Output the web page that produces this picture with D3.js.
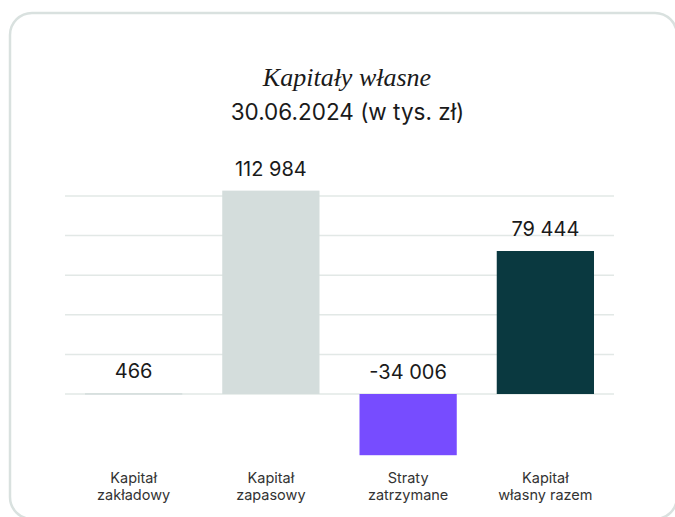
<!DOCTYPE html>
<html>
<head>
<meta charset="utf-8">
<script src="https://cdn.jsdelivr.net/npm/d3@7"></script>
<style>
  html, body { margin: 0; padding: 0; background: #ffffff; }
  svg { display: block; }
</style>
</head>
<body>
<svg id="chart" width="675" height="517"></svg>
<script>
// ---- data ----
const categories = [
  ["Kapitał", "zakładowy"],
  ["Kapitał", "zapasowy"],
  ["Straty", "zatrzymane"],
  ["Kapitał", "własny razem"]
];
const values = [466, 112984, -34006, 79444];
const valueLabels = ["466", "112 984", "-34 006", "79 444"];
const barColors = ["#d4dddc", "#d4dddc", "#774cff", "#0a3940"];
const gridValues = [0, 22000, 44000, 66000, 88000, 110000];
const titleText = "Kapitały własne";
const subtitleText = "30.06.2024 (w tys. zł)";

// ---- drawing ----
const svg = d3.select("#chart");
const sans = "Inter, 'Noto Sans', sans-serif";

// card
svg.append("rect")
  .attr("x", 10).attr("y", 13)
  .attr("width", 667).attr("height", 506)
  .attr("rx", 22).attr("ry", 22)
  .attr("fill", "#ffffff")
  .attr("stroke", "#d9e1df")
  .attr("stroke-width", 2.5);

// title
svg.append("text")
  .attr("x", 347).attr("y", 86)
  .attr("text-anchor", "middle")
  .attr("font-family", "'Liberation Serif', 'DejaVu Serif', serif")
  .attr("font-style", "italic")
  .attr("font-size", 26)
  .attr("fill", "#1a1a1a")
  .text(titleText);

svg.append("text")
  .attr("x", 347.5).attr("y", 120)
  .attr("text-anchor", "middle")
  .attr("font-family", sans)
  .attr("font-size", 22.5)
  .attr("fill", "#1a1a1a")
  .text(subtitleText);

const x = d3.scaleBand()
  .domain(d3.range(categories.length))
  .range([65, 614])
  .paddingInner(0.2914)
  .paddingOuter(0.1457);

const y = d3.scaleLinear()
  .domain([-40000, 120000])
  .range([466, 178]);

// gridlines
svg.append("g")
  .selectAll("line")
  .data(gridValues)
  .join("line")
  .attr("x1", 65).attr("x2", 614)
  .attr("y1", d => y(d)).attr("y2", d => y(d))
  .attr("stroke", "#e2e8e6")
  .attr("stroke-width", 1.5);

// bars
svg.append("g")
  .selectAll("rect")
  .data(values)
  .join("rect")
  .attr("x", (d, i) => x(i))
  .attr("width", x.bandwidth())
  .attr("y", d => y(Math.max(0, d)))
  .attr("height", d => Math.max(1.5, Math.abs(y(d) - y(0))))
  .attr("fill", (d, i) => barColors[i]);

// value labels
svg.append("g")
  .selectAll("text")
  .data(values)
  .join("text")
  .attr("x", (d, i) => x(i) + x.bandwidth() / 2)
  .attr("y", d => y(Math.max(0, d)) - 15)
  .attr("text-anchor", "middle")
  .attr("font-family", sans)
  .attr("font-size", 20)
  .attr("fill", "#1a1a1a")
  .text((d, i) => valueLabels[i]);

// category labels
const cat = svg.append("g")
  .selectAll("text")
  .data(categories)
  .join("text")
  .attr("x", (d, i) => x(i) + x.bandwidth() / 2)
  .attr("y", 483)
  .attr("text-anchor", "middle")
  .attr("font-family", sans)
  .attr("font-size", 14.5)
  .attr("fill", "#333333");
cat.selectAll("tspan")
  .data(d => d)
  .join("tspan")
  .attr("x", function () { return d3.select(this.parentNode).attr("x"); })
  .attr("dy", (d, i) => i === 0 ? 0 : 16.5)
  .text(d => d);
</script>
</body>
</html>
